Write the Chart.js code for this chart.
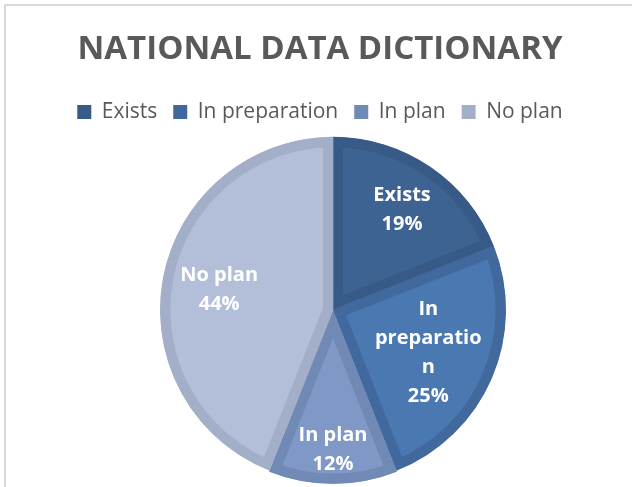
<!DOCTYPE html>
<html>
<head>
<meta charset="utf-8">
<title>National Data Dictionary</title>
<script src="https://cdn.jsdelivr.net/npm/chart.js@4/dist/chart.umd.min.js"></script>
<style>
  html, body { margin: 0; padding: 0; background: #fff; overflow: hidden; }
  .frame {
    position: absolute; left: 4px; top: 4px;
    width: 700px; height: 600px;
    border: 2px solid #d9d9d9;
  }
  #pieChart { position: absolute; left: 0; top: 0; }
</style>
</head>
<body>
<div class="frame"></div>
<canvas id="pieChart" width="632" height="487"></canvas>
<script>
// status of the national data dictionary, share of countries (%)
const statuses = ['Exists', 'In preparation', 'In plan', 'No plan'];
const shares = [19, 25, 12, 44];

// slice labels as they wrap inside the slices
const sliceLabelLines = [['Exists'], ['In', 'preparatio', 'n'], ['In plan'], ['No plan']];

const fillColors = ['#3d6393', '#4a78b0', '#7f98c6', '#b3bfd9'];
const edgeColors = ['#375a87', '#42699e', '#7089b5', '#a3afc9'];
// how far out (fraction of radius) each slice label sits
const labelDepth = [0.71, 0.6, 0.78, 0.67];
// small pull-out of the "In plan" slice
const sliceOffsets = [0, 0, 4, 0];

const app = {};

// keeps the pie a bit right of the title/legend centre
app.pieSpacer = {
  id: 'pieSpacer',
  beforeInit(chart) {
    Chart.layouts.addBox(chart, {
      position: 'left',
      weight: 0,
      fullSize: false,
      options: {},
      width: 0,
      height: 0,
      update(maxWidth, maxHeight) {
        this.width = 26;
        this.height = maxHeight;
      },
      isHorizontal() { return false; },
      draw() {}
    });
  }
};

// white name + percent text inside each slice
app.sliceLabels = {
  id: 'sliceLabels',
  afterDatasetsDraw(chart) {
    const ctx = chart.ctx;
    const meta = chart.getDatasetMeta(0);
    const values = chart.data.datasets[0].data;
    const total = values.reduce((a, b) => a + b, 0);
    const size = 20;
    ctx.save();
    ctx.fillStyle = '#ffffff';
    ctx.font = 'bold ' + size + 'px "Open Sans"';
    ctx.textAlign = 'center';
    ctx.textBaseline = 'alphabetic';
    meta.data.forEach((arc, i) => {
      const mid = (arc.startAngle + arc.endAngle) / 2;
      const r = arc.outerRadius * labelDepth[i] + sliceOffsets[i];
      const cx = arc.x + Math.cos(mid) * r;
      const cy = arc.y + Math.sin(mid) * r;
      const lines = sliceLabelLines[i].concat(Math.round(values[i] / total * 100) + '%');
      const lineHeight = 29;
      // baseline sits half a cap height below each line's centre
      const top = cy - (lines.length - 1) * lineHeight / 2 + size * 0.36;
      lines.forEach((line, j) => ctx.fillText(line, cx, top + j * lineHeight));
    });
    ctx.restore();
  }
};

app.init = () => {
  const data = {
    labels: statuses,
    datasets: [{
      data: shares,
      backgroundColor: fillColors,
      borderColor: edgeColors,
      borderWidth: 10,
      borderAlign: 'inner',
      offset: sliceOffsets,
      hoverOffset: 0
    }]
  };

  const config = {
    type: 'pie',
    data,
    options: {
      responsive: false,
      animation: false,
      radius: 173,
      layout: { padding: { top: 10, bottom: -14, left: 8, right: 0 } },
      plugins: {
        title: {
          display: true,
          text: 'NATIONAL DATA DICTIONARY',
          color: '#595959',
          font: { family: '"Open Sans"', size: 33, weight: 'bold', lineHeight: 1.2 },
          padding: { top: 20, bottom: 16 }
        },
        legend: {
          position: 'top',
          labels: {
            color: '#595959',
            font: { family: '"Open Sans"', size: 21 },
            boxWidth: 14,
            boxHeight: 14,
            padding: 16,
            generateLabels(chart) {
              const items = Chart.overrides.pie.plugins.legend.labels.generateLabels(chart);
              return items.map((item, i) => Object.assign(item, {
                fillStyle: edgeColors[i],
                strokeStyle: edgeColors[i],
                lineWidth: 0
              }));
            }
          }
        },
        tooltip: { enabled: false }
      }
    },
    plugins: [app.pieSpacer, app.sliceLabels]
  };

  new Chart(document.getElementById('pieChart'), config);
};

document.addEventListener('DOMContentLoaded', () => {
  app.init();
});
</script>
</body>
</html>
